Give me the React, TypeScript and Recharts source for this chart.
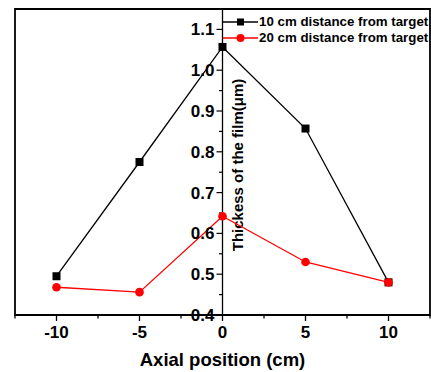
import { LineChart, Line, XAxis, YAxis, ReferenceLine, ReferenceDot, ReferenceArea } from 'recharts';

const positions = [-10, -5, 0, 5, 10];
const thickness10cm = [0.495, 0.775, 1.057, 0.857, 0.48];
const thickness20cm = [0.468, 0.456, 0.642, 0.53, 0.48];
const xTicks = [-12.5, -10, -7.5, -5, -2.5, 0, 2.5, 5, 7.5, 10, 12.5];
const yMajor = [0.4, 0.5, 0.6, 0.7, 0.8, 0.9, 1.0, 1.1];
const yMinor = [0.45, 0.55, 0.65, 0.75, 0.85, 0.95, 1.05];
const seriesNames = ['10 cm distance from target', '20 cm distance from target'];
const seriesColors = ['#000000', '#ff0000'];

const FONT = 'Arial, "Liberation Sans", sans-serif';

const data = positions.map((x, i) => ({ x, a: thickness10cm[i], b: thickness20cm[i] }));

function XTick({ x, y, payload }: any) {
  const v: number = payload.value;
  const major = positions.includes(v);
  return (
    <g>
      <line x1={x} x2={x} y1={y} y2={y + (major ? 6 : 3.5)} stroke="#000" strokeWidth={1.3} />
      {major && (
        <text x={x} y={y + 23} textAnchor="middle" fontFamily={FONT} fontWeight="bold" fontSize={17} fill="#000">
          {v}
        </text>
      )}
    </g>
  );
}

function SquareDot({ cx, cy, index }: any) {
  return <rect key={`sq-${index}`} x={cx - 4} y={cy - 4} width={8} height={8} fill="#000" />;
}

function CircleDot({ cx, cy, index }: any) {
  return <circle key={`ci-${index}`} cx={cx} cy={cy} r={4.3} fill="#ff0000" />;
}

function LegendBox() {
  return (
    <div
      style={{
        position: 'absolute',
        top: 14,
        left: 223,
        fontFamily: FONT,
        fontWeight: 'bold',
        fontSize: 13.3,
        lineHeight: '16px',
      }}
    >
      {seriesNames.map((name, i) => (
        <div key={name} style={{ display: 'flex', alignItems: 'center', height: 16, whiteSpace: 'nowrap' }}>
          <svg width={36} height={16}>
            <line x1={0} x2={35} y1={8} y2={8} stroke={seriesColors[i]} strokeWidth={1.3} />
            {i === 0 ? (
              <rect x={14} y={4.5} width={7} height={7} fill="#000" />
            ) : (
              <circle cx={17.5} cy={8} r={4} fill="#ff0000" />
            )}
          </svg>
          <span style={{ color: '#000' }}>{name}</span>
        </div>
      ))}
    </div>
  );
}

export default function App() {
  return (
    <div style={{ position: 'absolute', left: 0, top: 0, width: 431, height: 372, background: '#fff' }}>
      <LineChart width={431} height={372} data={data} margin={{ top: 9, right: 1, left: 15, bottom: 0 }}>
        <XAxis
          dataKey="x"
          type="number"
          domain={[-12.5, 12.5]}
          ticks={xTicks}
          interval={0}
          tickSize={0}
          tickMargin={0}
          tickLine={false}
          tick={<XTick />}
          height={57}
          axisLine={{ stroke: '#000', strokeWidth: 1.8 }}
          label={{
            value: 'Axial position (cm)',
            position: 'insideBottom',
            offset: 6,
            style: { fontFamily: FONT, fontWeight: 'bold', fontSize: 18.5, fill: '#000' },
          }}
        />
        <YAxis
          type="number"
          domain={[0.4, 1.15]}
          tick={false}
          tickLine={false}
          width={0}
          axisLine={{ stroke: '#000', strokeWidth: 1.8 }}
        />
        <ReferenceArea
          x1={-12.5}
          x2={12.5}
          y1={0.4}
          y2={1.15}
          fill="none"
          fillOpacity={0}
          stroke="#000"
          strokeWidth={1.8}
          strokeOpacity={1}
          ifOverflow="visible"
        />
        <ReferenceLine
          x={0}
          stroke="#000"
          strokeWidth={1.3}
          label={(props: any) => {
            const vb = props.viewBox || {};
            const cx = (vb.x ?? 0) + 20;
            const cy = (vb.y ?? 0) + 156;
            return (
              <text
                x={cx}
                y={cy}
                transform={`rotate(-90 ${cx} ${cy})`}
                textAnchor="middle"
                fontFamily={FONT}
                fontWeight="bold"
                fontSize={15}
                fill="#000"
              >
                Thickess of the film(μm)
              </text>
            );
          }}
        />
        {yMinor.map((v) => (
          <ReferenceDot
            key={`mn-${v}`}
            x={0}
            y={v}
            r={0}
            ifOverflow="visible"
            shape={(p: any) => <line x1={p.cx - 3.5} x2={p.cx} y1={p.cy} y2={p.cy} stroke="#000" strokeWidth={1.2} />}
          />
        ))}
        {yMajor.map((v) => (
          <ReferenceDot
            key={`mj-${v}`}
            x={0}
            y={v}
            r={0}
            ifOverflow="visible"
            shape={(p: any) => (
              <g>
                <line x1={p.cx - 6} x2={p.cx} y1={p.cy} y2={p.cy} stroke="#000" strokeWidth={1.2} />
                <text
                  x={p.cx - 8}
                  y={p.cy}
                  dy="0.35em"
                  textAnchor="end"
                  fontFamily={FONT}
                  fontWeight="bold"
                  fontSize={17}
                  fill="#000"
                >
                  {v.toFixed(1)}
                </text>
              </g>
            )}
          />
        ))}
        <Line
          dataKey="a"
          name={seriesNames[0]}
          stroke={seriesColors[0]}
          strokeWidth={1.3}
          dot={<SquareDot />}
          activeDot={false}
          isAnimationActive={false}
        />
        <Line
          dataKey="b"
          name={seriesNames[1]}
          stroke={seriesColors[1]}
          strokeWidth={1.3}
          dot={<CircleDot />}
          activeDot={false}
          isAnimationActive={false}
        />
      </LineChart>
      <LegendBox />
    </div>
  );
}
